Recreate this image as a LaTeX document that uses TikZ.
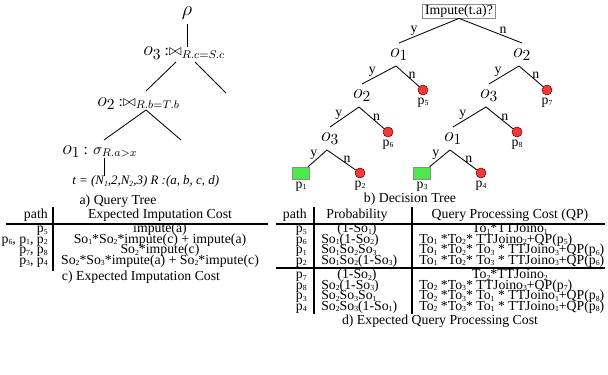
\documentclass[tikz,border=0pt]{standalone}
\usepackage{amsmath}
\usepackage{fontspec}
\setmainfont{Liberation Serif}
\usetikzlibrary{positioning}
\definecolor{leafred}{HTML}{F23A3A}
\definecolor{leafgreen}{HTML}{4CE94C}
\definecolor{boxgray}{HTML}{8C8C8C}
\newcommand{\sbs}[1]{\raisebox{-0.25ex}{\fontsize{5.5}{5}\selectfont #1}}
\newcommand{\pth}[1]{p\sbs{#1}}
\newcommand{\So}[1]{So\sbs{#1}}
\newcommand{\To}[1]{To\sbs{#1}}
\newcommand{\Jn}[1]{TTJoino\sbs{#1}}
\newcommand{\bigo}[1]{{\fontsize{15}{15}\selectfont$o_{#1}$}}

\begin{document}
\begin{tikzpicture}[
    x=0.025cm, y=-0.025cm,
    font=\fontsize{9.8}{11}\selectfont,
    opnode/.style={inner sep=0pt, anchor=base west},
    dnode/.style={inner sep=0.5pt},
    askbox/.style={rectangle, draw=boxgray, fill=white, inner xsep=2pt, inner ysep=0.6pt},
    redleaf/.style={circle, draw=red!45!black, fill=leafred, minimum size=0.25cm, inner sep=0pt},
    greenleaf/.style={rectangle, draw=boxgray, fill=leafgreen, minimum width=0.42cm, minimum height=0.3cm, inner sep=0pt},
    link/.style={line width=0.6pt},
    yn/.style={pos=0.7, above=0.5pt, inner sep=0.5pt},
    cellr/.style={inner sep=0pt, anchor=base east},
    cellc/.style={inner sep=0pt, anchor=base},
    celll/.style={inner sep=0pt, anchor=base west},
    rule/.style={line width=0.9pt},
]
    \useasboundingbox (0,0) rectangle (608,375);

    % ── a) QUERY TREE ──
    \node (rho) at (187,13) {\fontsize{15}{15}\selectfont$\rho$};
    \node[opnode] (q3) at (143,56) {\bigo{3} {\fontsize{11}{12}\selectfont:$\bowtie_{R.c=S.c}$}};
    \node[opnode] (q2) at (97,106) {\bigo{2} {\fontsize{11}{12}\selectfont:$\bowtie_{R.b=T.b}$}};
    \node[opnode] (q1) at (62,154) {\bigo{1} {\fontsize{11}{12}\selectfont: $\sigma_{R.a>x}$}};
    \node[opnode] (tup) at (72,185) {\fontsize{9.2}{11}\selectfont\itshape t = (N\sbs{1},2,N\sbs{2},3) R :(a, b, c, d)};
    \node (capa) at (118,201) {a) Query Tree};

    \coordinate (q3l) at (176,62);
    \coordinate (q3r) at (195,62);
    \coordinate (q3rr) at (226,93);
    \coordinate (q2t) at (146,91);
    \coordinate (q2s) at (146,110);
    \coordinate (q1t) at (104,140);
    \coordinate (q2rr) at (181,140);
    \coordinate (q1s) at (104,158);

    \draw[link] (rho) -- (rho |- q3.north);
    \draw[link] (q3l) -- (q2t);
    \draw[link] (q3r) -- (q3rr);
    \draw[link] (q2s) -- (q1t);
    \draw[link] (q2s) -- (q2rr);
    \draw[link] (q1s) -- (q1s |- tup.north);

    % ── b) DECISION TREE ──
    \node[askbox] (root) at (459,11) {Impute(t.a)?};
    \node[dnode] (d1) at (399,55) {\bigo{1}};
    \node[dnode] (d2) at (522,55) {\bigo{2}};
    \node[dnode] (d3) at (362,96) {\bigo{2}};
    \node[dnode] (d4) at (489,96) {\bigo{3}};
    \node[dnode] (d5) at (330,139) {\bigo{3}};
    \node[dnode] (d6) at (453,139) {\bigo{1}};
    \foreach \i in {1,...,6} {
        \coordinate (a\i) at ([shift={(-3,11)}]d\i.center);
        \coordinate (t\i) at ([shift={(0,-12)}]d\i.center);
    }

    \node[redleaf] (c5) at (423,90) {};
    \node[redleaf] (c7) at (547,90) {};
    \node[redleaf] (c6) at (388,132) {};
    \node[redleaf] (c8) at (517,132) {};
    \node[greenleaf] (c1) at (301,173) {};
    \node[redleaf] (c2) at (360,173) {};
    \node[greenleaf] (c3) at (422,173) {};
    \node[redleaf] (c4) at (481,173) {};
    \foreach \i in {1,...,8}
        \node[below=1.5pt of c\i, inner sep=0pt] (l\i) {\pth{\i}};

    \draw[link] (root.south) -- node[yn, pos=0.75] {y} (t1);
    \draw[link] (root.south) -- node[yn, pos=0.7] {n} (t2);
    \draw[link] (a1) -- node[yn] {y} (t3);
    \draw[link] (a1) -- node[yn] {n} (c5);
    \draw[link] (a2) -- node[yn] {y} (t4);
    \draw[link] (a2) -- node[yn] {n} (c7);
    \draw[link] (a3) -- node[yn] {y} (t5);
    \draw[link] (a3) -- node[yn] {n} (c6);
    \draw[link] (a4) -- node[yn] {y} (t6);
    \draw[link] (a4) -- node[yn] {n} (c8);
    \draw[link] (a5) -- node[yn] {y} (c1);
    \draw[link] (a5) -- node[yn] {n} (c2);
    \draw[link] (a6) -- node[yn] {y} (c3);
    \draw[link] (a6) -- node[yn] {n} (c4);

    \node (capb) at (410,199) {b) Decision Tree};

    % ── c) EXPECTED IMPUTATION COST ──
    \def\hdY{218.5}
    \def\rowA{232.5}
    \def\rowB{278.5}
    \node[cellr] (chp) at (48,\hdY) {path};
    \node[cellc] (che) at (160,\hdY) {Expected Imputation Cost};
    \draw[rule] (6,224) -- (268,224);
    \draw[rule] (53,207) -- (53,271);
    \foreach \r/\pa/\ec in {0/{\pth{5}}/{impute(a)},
                            1/{\pth{6}, \pth{1}, \pth{2}}/{\So{1}*\So{2}*impute(c) + impute(a)},
                            2/{\pth{7}, \pth{8}}/{\So{2}*impute(c)},
                            3/{\pth{3}, \pth{4}}/{\So{2}*\So{3}*impute(a) + \So{2}*impute(c)}} {
        \node[cellr] (cp\r) at (48,\rowA+10.5*\r) {\pa};
        \node[cellc] (ce\r) at (160,\rowA+10.5*\r) {\ec};
    }
    \node[cellc] (capc) at (141,280.5) {c) Expected Imputation Cost};

    % ── d) EXPECTED QUERY PROCESSING COST ──
    \node[cellr] (dhp) at (307,\hdY) {path};
    \node[cellc] (dhr) at (357,\hdY) {Probability};
    \node[cellc] (dhq) at (510,\hdY) {Query Processing Cost (QP)};
    \draw[rule] (276,224) -- (605,224);
    \draw[rule] (276,268) -- (605,268);
    \draw[rule] (314,207) -- (314,313.5);
    \draw[rule] (412,207) -- (412,313.5);

    % first rows of both groups are centred
    \node[cellr] (dp5) at (307,\rowA) {\pth{5}};
    \node[cellc] (dr5) at (357,\rowA) {(1-\So{1})};
    \node[cellc] (dq5) at (510,\rowA) {\To{1}*\Jn{1}};
    \node[cellr] (dp7) at (307,\rowB) {\pth{7}};
    \node[cellc] (dr7) at (357,\rowB) {(1-\So{2})};
    \node[cellc] (dq7) at (510,\rowB) {\To{2}*\Jn{2}};

    \foreach \yy/\pa/\pr/\qp in {
        243/6/{\So{1}(1-\So{2})}/{\To{1} *\To{2}* \Jn{2}+QP(\pth{5})},
        253.5/1/{\So{1}\So{2}\So{3}}/{\To{1} *\To{2}* \To{3} * \Jn{3}+QP(\pth{6})},
        264/2/{\So{1}\So{2}(1-\So{3})}/{\To{1} *\To{2}* \To{3} * \Jn{3}+QP(\pth{6})},
        289/8/{\So{2}(1-\So{3})}/{\To{2} *\To{3}* \Jn{3}+QP(\pth{7})},
        299.5/3/{\So{2}\So{3}\So{1}}/{\To{2} *\To{3}* \To{1} * \Jn{1}+QP(\pth{8})},
        310/4/{\So{2}\So{3}(1-\So{1})}/{\To{2} *\To{3}* \To{1} * \Jn{1}+QP(\pth{8})}} {
        \node[cellr] (dp\pa) at (307,\yy) {\pth{\pa}};
        \node[celll] (dr\pa) at (321,\yy) {\pr};
        \node[celll] (dq\pa) at (419,\yy) {\qp};
    }
    \node[cellc] (capd) at (440,324.5) {d) Expected Query Processing Cost};

\end{tikzpicture}
\end{document}
